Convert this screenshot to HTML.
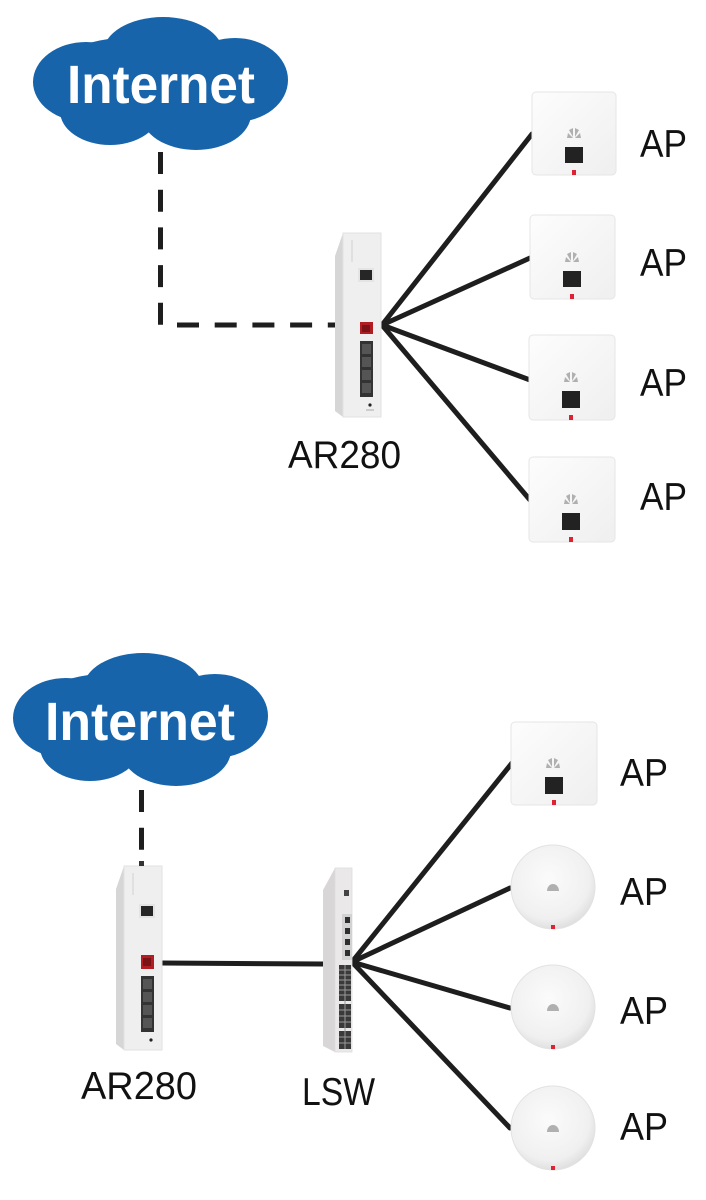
<!DOCTYPE html>
<html><head><meta charset="utf-8"><style>
html,body{margin:0;padding:0;background:#fff;}
svg{display:block;}
</style></head><body>
<svg width="706" height="1200" viewBox="0 0 706 1200" xmlns="http://www.w3.org/2000/svg">
<defs>
<linearGradient id="plate" x1="0" y1="0" x2="1" y2="1">
<stop offset="0" stop-color="#fdfdfd"/><stop offset="1" stop-color="#efefef"/>
</linearGradient>
<radialGradient id="disc" cx="0.45" cy="0.4" r="0.6">
<stop offset="0" stop-color="#fbfbfb"/><stop offset="0.8" stop-color="#f0f0f0"/><stop offset="1" stop-color="#e0e0e0"/>
</radialGradient>
</defs>
<rect width="706" height="1200" fill="#fff"/>

<!-- Cloud 1 -->
<g fill="#1764ab">
<ellipse cx="160" cy="80" rx="125" ry="45"/>
<ellipse cx="163" cy="53" rx="60" ry="36"/>
<ellipse cx="86" cy="82" rx="53" ry="40"/>
<ellipse cx="235" cy="80" rx="53" ry="42"/>
<ellipse cx="110" cy="111" rx="50" ry="34"/>
<ellipse cx="196" cy="114" rx="55" ry="36"/>
</g>
<text x="67" y="103" font-family="Liberation Sans, Arial, sans-serif" font-weight="bold" font-size="54" fill="#fff" textLength="188" lengthAdjust="spacingAndGlyphs">Internet</text>

<!-- Cloud 2 -->
<g fill="#1764ab" transform="translate(-20,636)">
<ellipse cx="160" cy="80" rx="125" ry="45"/>
<ellipse cx="163" cy="53" rx="60" ry="36"/>
<ellipse cx="86" cy="82" rx="53" ry="40"/>
<ellipse cx="235" cy="80" rx="53" ry="42"/>
<ellipse cx="110" cy="111" rx="50" ry="34"/>
<ellipse cx="196" cy="114" rx="55" ry="36"/>
</g>
<text x="45" y="740" font-family="Liberation Sans, Arial, sans-serif" font-weight="bold" font-size="54" fill="#fff" textLength="190" lengthAdjust="spacingAndGlyphs">Internet</text>

<!-- dashed lines -->
<g stroke="#1e1e1e" stroke-width="5" fill="none" stroke-dasharray="22 15.7">
<line x1="160.5" y1="152" x2="160.5" y2="327"/>
<line x1="177" y1="325" x2="340" y2="325"/>
<line x1="141.5" y1="790" x2="141.5" y2="868"/>
</g>

<!-- fan lines -->
<g stroke="#1e1e1e" stroke-width="5" stroke-linecap="round" fill="none">
<line x1="382" y1="325" x2="532" y2="134"/>
<line x1="382" y1="325" x2="530" y2="258"/>
<line x1="382" y1="325" x2="530" y2="380"/>
<line x1="382" y1="325" x2="530" y2="500"/>
<line x1="162" y1="963" x2="323" y2="964"/>
<line x1="352" y1="962" x2="512" y2="763"/>
<line x1="352" y1="962" x2="510" y2="888"/>
<line x1="352" y1="962" x2="510" y2="1008"/>
<line x1="352" y1="962" x2="510" y2="1128"/>
</g>

<!-- Router top -->
<g>
<polygon points="335,256 343,233 343,417 335,411" fill="#d6d6d6"/>
<rect x="343" y="233" width="38" height="184" fill="#efefef" stroke="#e2e2e2" stroke-width="1"/>
<line x1="352" y1="240" x2="352" y2="262" stroke="#d0d0d0" stroke-width="1"/>
<rect x="358" y="268" width="16" height="14" fill="#e4e4e4"/>
<rect x="360" y="270" width="12" height="10" fill="#262626"/>
<rect x="360" y="322" width="13" height="12" fill="#b21d24"/>
<rect x="362" y="325" width="8" height="7" fill="#7a1216"/>
<rect x="360" y="341" width="13" height="56" fill="#333"/>
<g fill="#555">
<rect x="362" y="344" width="9" height="10"/>
<rect x="362" y="357" width="9" height="10"/>
<rect x="362" y="370" width="9" height="10"/>
<rect x="362" y="383" width="9" height="10"/>
</g>
<circle cx="370" cy="405" r="1.6" fill="#222"/>
<rect x="366" y="409" width="8" height="2" fill="#ccc"/>
</g>

<!-- Router bottom -->
<g transform="translate(-219,633)">
<polygon points="335,256 343,233 343,417 335,411" fill="#d6d6d6"/>
<rect x="343" y="233" width="38" height="184" fill="#efefef" stroke="#e2e2e2" stroke-width="1"/>
<line x1="352" y1="240" x2="352" y2="262" stroke="#d0d0d0" stroke-width="1"/>
<rect x="358" y="271" width="16" height="14" fill="#e4e4e4"/>
<rect x="360" y="273" width="12" height="10" fill="#262626"/>
<rect x="360" y="322" width="13" height="14" fill="#b21d24"/>
<rect x="362" y="325" width="8" height="8" fill="#7a1216"/>
<rect x="360" y="343" width="13" height="56" fill="#333"/>
<g fill="#555">
<rect x="362" y="346" width="9" height="10"/>
<rect x="362" y="359" width="9" height="10"/>
<rect x="362" y="372" width="9" height="10"/>
<rect x="362" y="385" width="9" height="10"/>
</g>
<circle cx="370" cy="407" r="1.6" fill="#222"/>
<rect x="358" y="228" width="5" height="5" fill="#333"/>
</g>

<!-- LSW switch -->
<g>
<polygon points="323,890 335,868 335,1052 323,1046" fill="#d9d6d7"/>
<rect x="335" y="868" width="17" height="184" fill="#ebe8e9" stroke="#ddd" stroke-width="0.8"/>
<rect x="344" y="890" width="5" height="6" fill="#444"/>
<rect x="342" y="914" width="10" height="46" fill="#d2d2d2"/>
<g fill="#2e2e2e">
<rect x="345" y="917" width="5" height="6"/>
<rect x="345" y="928" width="5" height="6"/>
<rect x="345" y="939" width="5" height="6"/>
<rect x="345" y="950" width="5" height="6"/>
</g>
<rect x="339" y="965" width="12" height="36" fill="#3a3a3a"/>
<rect x="339" y="1004" width="12" height="24" fill="#3a3a3a"/>
<rect x="339" y="1031" width="12" height="18" fill="#3a3a3a"/>
<g stroke="#9a9a9a" stroke-width="1">
<line x1="345" y1="965" x2="345" y2="1049"/>
<line x1="339" y1="970" x2="351" y2="970"/>
<line x1="339" y1="975" x2="351" y2="975"/>
<line x1="339" y1="980" x2="351" y2="980"/>
<line x1="339" y1="985" x2="351" y2="985"/>
<line x1="339" y1="990" x2="351" y2="990"/>
<line x1="339" y1="995" x2="351" y2="995"/>
<line x1="339" y1="1010" x2="351" y2="1010"/>
<line x1="339" y1="1016" x2="351" y2="1016"/>
<line x1="339" y1="1022" x2="351" y2="1022"/>
<line x1="339" y1="1037" x2="351" y2="1037"/>
<line x1="339" y1="1043" x2="351" y2="1043"/>
</g>
</g>

<!-- AP wall plates -->
<g>
<rect x="532" y="92" width="84" height="83" rx="4" fill="url(#plate)" stroke="#e6e6e6"/>
<g fill="#b0b0b0" transform="translate(574,138)"><path d="M-7,0 L-1,0 L-6,-5 Z M1,0 L7,0 L6,-5 Z M-1,-1 L-5,-8 L-1,-10 Z M1,-1 L5,-8 L1,-10 Z"/></g>
<rect x="565" y="147" width="18" height="16" fill="#222"/>
<rect x="572" y="170" width="4" height="5" fill="#d23"/>

<rect x="530" y="215" width="85" height="84" rx="4" fill="url(#plate)" stroke="#e6e6e6"/>
<g fill="#b0b0b0" transform="translate(572,262)"><path d="M-7,0 L-1,0 L-6,-5 Z M1,0 L7,0 L6,-5 Z M-1,-1 L-5,-8 L-1,-10 Z M1,-1 L5,-8 L1,-10 Z"/></g>
<rect x="563" y="271" width="18" height="16" fill="#222"/>
<rect x="570" y="294" width="4" height="5" fill="#d23"/>

<rect x="529" y="335" width="86" height="85" rx="4" fill="url(#plate)" stroke="#e6e6e6"/>
<g fill="#b0b0b0" transform="translate(571,382)"><path d="M-7,0 L-1,0 L-6,-5 Z M1,0 L7,0 L6,-5 Z M-1,-1 L-5,-8 L-1,-10 Z M1,-1 L5,-8 L1,-10 Z"/></g>
<rect x="562" y="391" width="18" height="17" fill="#222"/>
<rect x="569" y="415" width="4" height="5" fill="#d23"/>

<rect x="529" y="457" width="86" height="85" rx="4" fill="url(#plate)" stroke="#e6e6e6"/>
<g fill="#b0b0b0" transform="translate(571,504)"><path d="M-7,0 L-1,0 L-6,-5 Z M1,0 L7,0 L6,-5 Z M-1,-1 L-5,-8 L-1,-10 Z M1,-1 L5,-8 L1,-10 Z"/></g>
<rect x="562" y="513" width="18" height="17" fill="#222"/>
<rect x="569" y="537" width="4" height="5" fill="#d23"/>

<rect x="511" y="722" width="86" height="83" rx="4" fill="url(#plate)" stroke="#e6e6e6"/>
<g fill="#b0b0b0" transform="translate(553,768)"><path d="M-7,0 L-1,0 L-6,-5 Z M1,0 L7,0 L6,-5 Z M-1,-1 L-5,-8 L-1,-10 Z M1,-1 L5,-8 L1,-10 Z"/></g>
<rect x="545" y="777" width="18" height="17" fill="#222"/>
<rect x="552" y="800" width="4" height="5" fill="#d23"/>
</g>

<!-- AP ceiling discs -->
<g>
<circle cx="553" cy="887" r="42" fill="url(#disc)" stroke="#e2e2e2"/>
<path d="M547,891 a6,7 0 0 1 12,0 z" fill="#b0b0b0"/>
<rect x="551" y="925" width="4" height="4" fill="#d23"/>
<circle cx="553" cy="1007" r="42" fill="url(#disc)" stroke="#e2e2e2"/>
<path d="M547,1011 a6,7 0 0 1 12,0 z" fill="#b0b0b0"/>
<rect x="551" y="1045" width="4" height="4" fill="#d23"/>
<circle cx="553" cy="1128" r="42" fill="url(#disc)" stroke="#e2e2e2"/>
<path d="M547,1132 a6,7 0 0 1 12,0 z" fill="#b0b0b0"/>
<rect x="551" y="1166" width="4" height="4" fill="#d23"/>
</g>

<!-- Labels -->
<g font-family="Liberation Sans, Arial, sans-serif" font-size="39" fill="#111">
<text x="640" y="157" textLength="47" lengthAdjust="spacingAndGlyphs">AP</text>
<text x="640" y="276" textLength="47" lengthAdjust="spacingAndGlyphs">AP</text>
<text x="640" y="396" textLength="47" lengthAdjust="spacingAndGlyphs">AP</text>
<text x="640" y="510" textLength="47" lengthAdjust="spacingAndGlyphs">AP</text>
<text x="288" y="468" textLength="113" lengthAdjust="spacingAndGlyphs">AR280</text>
<text x="620" y="786" textLength="48" lengthAdjust="spacingAndGlyphs">AP</text>
<text x="620" y="905" textLength="48" lengthAdjust="spacingAndGlyphs">AP</text>
<text x="620" y="1024" textLength="48" lengthAdjust="spacingAndGlyphs">AP</text>
<text x="620" y="1140" textLength="48" lengthAdjust="spacingAndGlyphs">AP</text>
<text x="81" y="1099" textLength="116" lengthAdjust="spacingAndGlyphs">AR280</text>
<text x="302" y="1105" textLength="73" lengthAdjust="spacingAndGlyphs">LSW</text>
</g>
</svg>
</body></html>
